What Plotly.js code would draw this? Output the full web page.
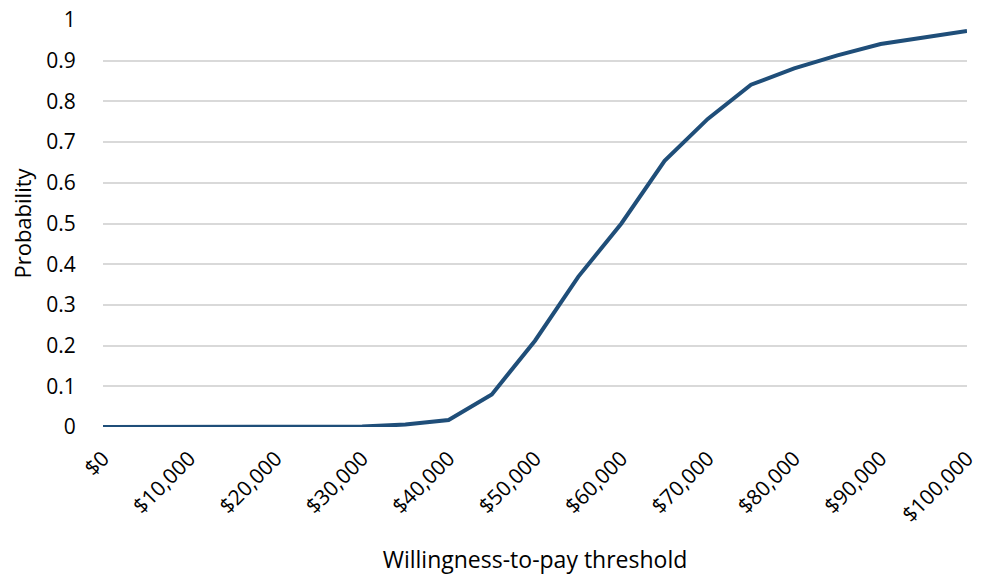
<!DOCTYPE html>
<html>
<head>
<meta charset="utf-8">
<script src="https://cdn.plot.ly/plotly-3.0.1.min.js"></script>
<style>html,body{margin:0;padding:0;background:#fff;}#chart{width:983px;height:577px;}</style>
</head>
<body>
<div id="chart"></div>
<script>
const thresholds = [0,5000,10000,15000,20000,25000,30000,35000,40000,45000,50000,55000,60000,65000,70000,75000,80000,85000,90000,95000,100000];
const probability = [0,0,0,0,0,0,0.001,0.006,0.017,0.08,0.212,0.369,0.5,0.654,0.757,0.841,0.881,0.913,0.941,0.957,0.973];
const xTickVals = [0,10000,20000,30000,40000,50000,60000,70000,80000,90000,100000];
const xTickText = ['$0','$10,000','$20,000','$30,000','$40,000','$50,000','$60,000','$70,000','$80,000','$90,000','$100,000'];
const yTickVals = [0,0.1,0.2,0.3,0.4,0.5,0.6,0.7,0.8,0.9,1];
const yTickText = ['0','0.1','0.2','0.3','0.4','0.5','0.6','0.7','0.8','0.9','1'];

const font = '"Open Sans", Lato, sans-serif';
Plotly.newPlot('chart', [{
  x: thresholds, y: probability, type: 'scatter', mode: 'lines',
  line: {color: '#1f4e79', width: 4}, hoverinfo: 'x+y'
}], {
  width: 983, height: 577,
  margin: {l: 103, r: 16, t: 20, b: 150},
  paper_bgcolor: '#fff', plot_bgcolor: '#fff',
  showlegend: false,
  font: {family: font, color: '#000', size: 20},
  xaxis: {
    range: [0, 100000], tickvals: xTickVals, ticktext: xTickText,
    tickangle: -45, showgrid: false, zeroline: false,
    showline: false, ticks: 'outside', ticklen: 10, tickcolor: 'rgba(0,0,0,0)',
    tickfont: {family: font, size: 21, color: '#000'},
    title: {text: 'Willingness-to-pay threshold', font: {family: font, size: 23, color: '#000'}, standoff: 25}
  },
  yaxis: {
    range: [0, 1], tickvals: yTickVals, ticktext: yTickText,
    showgrid: true, gridcolor: '#d9d9d9', gridwidth: 2,
    zeroline: false, showline: false, ticks: 'outside', ticklen: 22, tickcolor: 'rgba(0,0,0,0)',
    tickfont: {family: font, size: 21, color: '#000'},
    title: {text: 'Probability', font: {family: font, size: 22, color: '#000'}, standoff: 8}
  }
}, {displayModeBar: false, staticPlot: true});
</script>
</body>
</html>
